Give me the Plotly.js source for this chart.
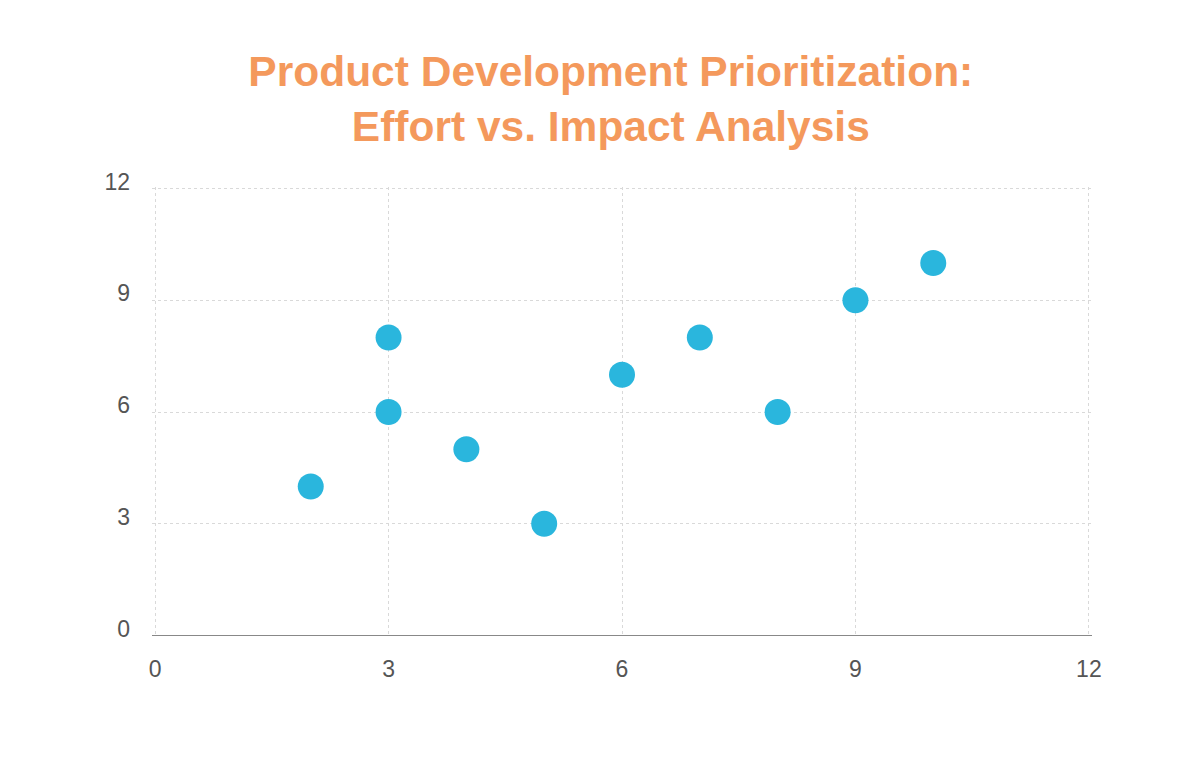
<!DOCTYPE html>
<html>
<head>
<meta charset="utf-8">
<script src="https://cdn.plot.ly/plotly-3.0.1.min.js"></script>
<style>html,body{margin:0;padding:0;background:#fff;}#chart{width:1200px;height:771px;}</style>
</head>
<body>
<div id="chart"></div>
<script>
const effort = [2, 3, 3, 4, 5, 6, 7, 8, 9, 10];
const impact = [4, 8, 6, 5, 3, 7, 8, 6, 9, 10];
const tickValues = [0, 3, 6, 9, 12];
const titleText = "Product Development Prioritization:<br>Effort vs. Impact Analysis";

const trace = {
  x: effort,
  y: impact,
  type: "scatter",
  mode: "markers",
  marker: {size: 26, color: "#2AB6DD"},
  hoverinfo: "x+y"
};

const layout = {
  width: 1200,
  height: 771,
  paper_bgcolor: "#fff",
  plot_bgcolor: "#fff",
  margin: {l: 152, r: 108, t: 187, b: 134},
  showlegend: false,
  title: {
    text: titleText,
    x: 0.509,
    xanchor: "center",
    yref: "container",
    y: 1 - 86 / 771,
    yanchor: "top",
    font: {family: "Liberation Sans, Arial, sans-serif", size: 42.5, color: "#F4995C", weight: "bold"}
  },
  xaxis: {
    range: [-0.04, 12.04],
    tickvals: tickValues,
    ticktext: tickValues.map(String),
    showgrid: true,
    gridcolor: "#d9d9d9",
    griddash: "dot",
    gridwidth: 1,
    zeroline: false,
    showline: false,
    ticks: "",
    ticklabelstandoff: 16,
    tickfont: {family: "Liberation Sans, Arial, sans-serif", size: 23, color: "#555"}
  },
  yaxis: {
    range: [-0.04, 12.04],
    tickvals: tickValues,
    ticktext: tickValues.map(String),
    showgrid: true,
    gridcolor: "#d9d9d9",
    griddash: "dot",
    gridwidth: 1,
    zeroline: true,
    zerolinecolor: "#888",
    zerolinewidth: 1,
    showline: false,
    ticks: "",
    ticklabelstandoff: 21,
    ticklabelshift: -7,
    tickfont: {family: "Liberation Sans, Arial, sans-serif", size: 23, color: "#555"}
  }
};

Plotly.newPlot("chart", [trace], layout, {displayModeBar: false, responsive: false});
</script>
</body>
</html>
